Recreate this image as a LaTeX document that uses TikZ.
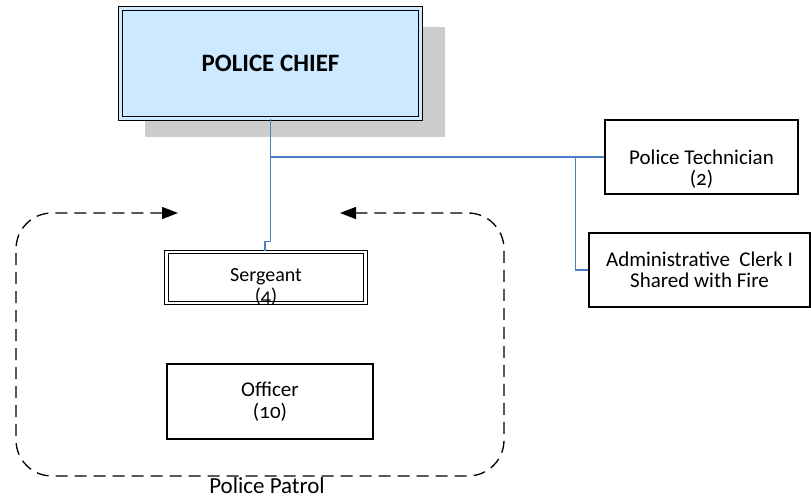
\documentclass[tikz,border=0pt]{standalone}
\usepackage{fontspec}
\setmainfont{Carlito}[Numbers=OldStyle]
\usepackage{tikz}
\usetikzlibrary{positioning}
\usetikzlibrary{shadows}
\usetikzlibrary{arrows.meta}
\definecolor{chiefblue}{HTML}{CCE9FF}
\definecolor{linkblue}{HTML}{4A7EC5}
\definecolor{shadowgrey}{HTML}{CCCCCC}
\newcommand{\lowered}[2]{\raisebox{#1}[0pt][0pt]{\begin{tabular}{@{}c@{}}#2\end{tabular}}}

\begin{document}
\begin{tikzpicture}[x=1pt, y=-1pt,
	post/.style={draw, line width=1.3pt, align=center, inner sep=0pt, font=\fontsize{21}{21}\selectfont},
	doublepost/.style={post, draw=black, double=#1, double distance=2.2pt, line width=1.2pt},
	link/.style={draw=linkblue, line width=1.4pt},
	patrol/.style={dash pattern=on 12pt off 7pt, line width=1.3pt, rounded corners=36pt, {Triangle[length=16pt,width=12pt]}-{Triangle[length=16pt,width=12pt]}}]
	
	\useasboundingbox (0,0) rectangle (811,499);
	
	\node [doublepost=chiefblue, fill=chiefblue, minimum width=300pt, minimum height=110pt, font=\fontsize{25}{25}\selectfont\bfseries, drop shadow={shadow xshift=24pt, shadow yshift=-18pt, fill=shadowgrey, opacity=1}] at (270.5,63.5) (1Chief) {POLICE CHIEF};
	
	\node [post, minimum width=193pt, minimum height=74pt] at (701.5,157) (2Tech) {\lowered{-19pt}{Police Technician\\(2)}};
	\node [post, minimum width=221pt, minimum height=74pt] at (699.5,270) (2Clerk) {Administrative\ \ Clerk I\\Shared with Fire};
	
	\node [doublepost=white, minimum width=199pt, minimum height=51pt, font=\fontsize{20}{19}\selectfont] at (266,277.5) (3Sgt) {\lowered{-16pt}{Sergeant\\(4)}};
	\node [post, minimum width=206pt, minimum height=75pt, font=\fontsize{21}{22}\selectfont] at (270,401.5) (4Officer) {Officer\\(10)};
	
	\coordinate (5LeftTip) at (178,213); \coordinate (5RightTip) at (340,213);
	\draw [patrol] (5LeftTip) -- (16,213) -- (16,476) -- (504,476) -- (504,213) -- (5RightTip);
	\node [font=\fontsize{23}{23}\selectfont] at (267,486) (5Patrol) {Police Patrol};
	
	\draw [link] (1Chief.south) |- (2Tech.west); \draw [link] ([xshift=-29pt]2Tech.west) |- (2Clerk.west);
	\draw [link] (1Chief.south) |- ([yshift=10pt, xshift=-1pt]3Sgt.north) -- ([xshift=-1pt]3Sgt.north);
	
\end{tikzpicture}
\end{document}
